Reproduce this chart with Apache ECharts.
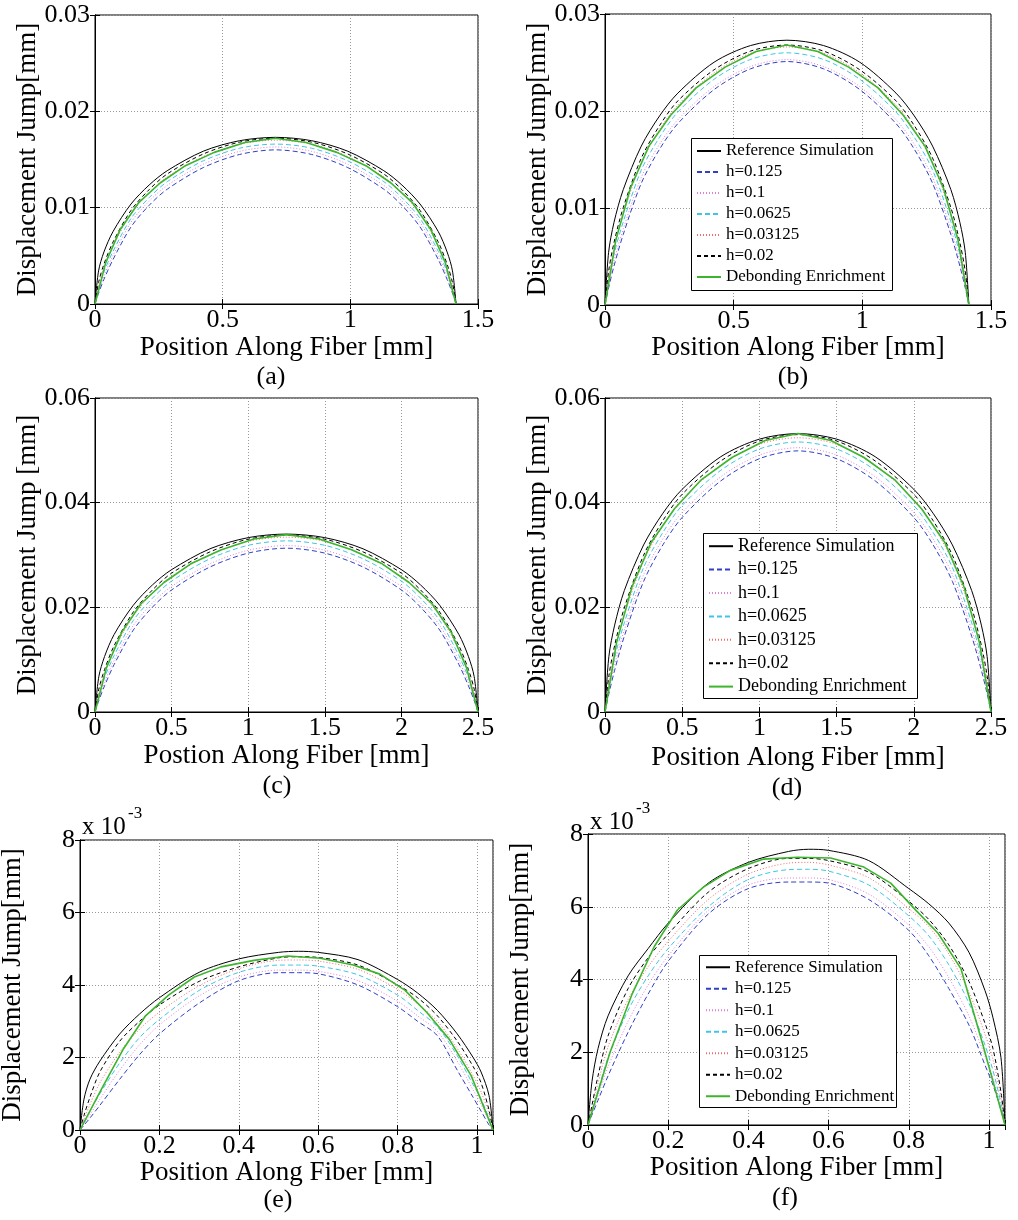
<!DOCTYPE html>
<html>
<head>
<meta charset="utf-8">
<script src="https://cdn.jsdelivr.net/npm/echarts@6/dist/echarts.min.js"></script>
<style>
html,body{margin:0;padding:0;background:#fff}
#chart{width:1018px;height:1220px}
</style>
</head>
<body>
<div id="chart"></div>
<script>
// ---- Series names (legend order) ----
const seriesNames = ['Reference Simulation', 'h=0.125', 'h=0.1', 'h=0.0625', 'h=0.03125', 'h=0.02', 'Debonding Enrichment'];

// ---- Panel (a): fiber length 1.414 mm ----
const xA = [0, 0.014, 0.035, 0.071, 0.141, 0.212, 0.283, 0.424, 0.566, 0.707, 0.849, 0.99, 1.131, 1.202, 1.273, 1.344, 1.379, 1.4, 1.414];
const refA    = [0, 0.00344, 0.0054, 0.00754, 0.01038, 0.01235, 0.01384, 0.01586, 0.01695, 0.0173, 0.01695, 0.01586, 0.01384, 0.01235, 0.01038, 0.00754, 0.0054, 0.00344, 0];
const h125A   = [0, 0.00112, 0.00256, 0.00464, 0.008, 0.01024, 0.01192, 0.01416, 0.01552, 0.016, 0.01552, 0.01416, 0.01192, 0.01024, 0.008, 0.00464, 0.00256, 0.00112, 0];
const h100A   = [0, 0.0013, 0.00293, 0.00505, 0.00848, 0.01068, 0.01231, 0.01451, 0.01584, 0.0163, 0.01584, 0.01451, 0.01231, 0.01068, 0.00848, 0.00505, 0.00293, 0.0013, 0];
const h0625A  = [0, 0.00149, 0.00332, 0.00548, 0.00888, 0.01104, 0.0127, 0.01486, 0.01617, 0.0166, 0.01617, 0.01486, 0.0127, 0.01104, 0.00888, 0.00548, 0.00332, 0.00149, 0];
const h03125A = [0, 0.00187, 0.00374, 0.00604, 0.00935, 0.01156, 0.01318, 0.0153, 0.01659, 0.017, 0.01659, 0.0153, 0.01318, 0.01156, 0.00935, 0.00604, 0.00374, 0.00187, 0];
const h02A    = [0, 0.00224, 0.00413, 0.00645, 0.00972, 0.01187, 0.0135, 0.01557, 0.0168, 0.0172, 0.0168, 0.01557, 0.0135, 0.01187, 0.00972, 0.00645, 0.00413, 0.00224, 0];
const xDebA   = [0, 0.042, 0.099, 0.17, 0.255, 0.354, 0.467, 0.587, 0.707, 0.827, 0.947, 1.061, 1.159, 1.244, 1.315, 1.372, 1.414];
const debA    = [0, 0.0043, 0.00774, 0.01049, 0.01256, 0.01436, 0.01574, 0.01677, 0.0172, 0.01677, 0.01574, 0.01436, 0.01256, 0.01049, 0.00774, 0.0043, 0];

// ---- Panel (b): fiber length 1.414 mm ----
const xB = [0, 0.014, 0.035, 0.071, 0.141, 0.212, 0.283, 0.424, 0.566, 0.707, 0.849, 0.99, 1.131, 1.202, 1.273, 1.344, 1.379, 1.4, 1.414];
const refB    = [0, 0.00543, 0.00852, 0.0119, 0.01638, 0.01949, 0.02184, 0.02503, 0.02675, 0.0273, 0.02675, 0.02503, 0.02184, 0.01949, 0.01638, 0.0119, 0.00852, 0.00543, 0];
const h125B   = [0, 0.00176, 0.00402, 0.00728, 0.01255, 0.01606, 0.0187, 0.02221, 0.02435, 0.0251, 0.02435, 0.02221, 0.0187, 0.01606, 0.01255, 0.00728, 0.00402, 0.00176, 0];
const h100B   = [0, 0.00202, 0.00455, 0.00784, 0.01316, 0.01657, 0.0191, 0.02252, 0.02459, 0.0253, 0.02459, 0.02252, 0.0191, 0.01657, 0.01316, 0.00784, 0.00455, 0.00202, 0];
const h0625B  = [0, 0.00234, 0.0052, 0.00858, 0.01391, 0.01729, 0.01989, 0.02327, 0.02532, 0.026, 0.02532, 0.02327, 0.01989, 0.01729, 0.01391, 0.00858, 0.0052, 0.00234, 0];
const h03125B = [0, 0.00293, 0.00585, 0.00944, 0.01463, 0.01809, 0.02062, 0.02394, 0.02596, 0.0266, 0.02596, 0.02394, 0.02062, 0.01809, 0.01463, 0.00944, 0.00585, 0.00293, 0];
const h02B    = [0, 0.00348, 0.00643, 0.01005, 0.01514, 0.01849, 0.02104, 0.02425, 0.02618, 0.0268, 0.02618, 0.02425, 0.02104, 0.01849, 0.01514, 0.01005, 0.00643, 0.00348, 0];
const xDebB   = [0, 0.042, 0.099, 0.17, 0.255, 0.354, 0.467, 0.587, 0.707, 0.827, 0.947, 1.061, 1.159, 1.244, 1.315, 1.372, 1.414];
const debB    = [0, 0.0067, 0.01206, 0.01635, 0.01956, 0.02238, 0.02452, 0.02613, 0.0268, 0.02613, 0.02452, 0.02238, 0.01956, 0.01635, 0.01206, 0.0067, 0];

// ---- Panel (c): fiber length 2.5 mm ----
const xC = [0, 0.025, 0.0625, 0.125, 0.25, 0.375, 0.5, 0.75, 1.0, 1.25, 1.5, 1.75, 2.0, 2.125, 2.25, 2.375, 2.4375, 2.475, 2.5];
const refC    = [0, 0.00677, 0.01061, 0.01482, 0.0204, 0.02428, 0.0272, 0.03118, 0.03332, 0.034, 0.03332, 0.03118, 0.0272, 0.02428, 0.0204, 0.01482, 0.01061, 0.00677, 0];
const h125C   = [0, 0.00219, 0.00501, 0.00908, 0.01565, 0.02003, 0.02332, 0.0277, 0.03036, 0.0313, 0.03036, 0.0277, 0.02332, 0.02003, 0.01565, 0.00908, 0.00501, 0.00219, 0];
const h100C   = [0, 0.00254, 0.00572, 0.00986, 0.01654, 0.02083, 0.02401, 0.0283, 0.03091, 0.0318, 0.03091, 0.0283, 0.02401, 0.02083, 0.01654, 0.00986, 0.00572, 0.00254, 0];
const h0625C  = [0, 0.00294, 0.00654, 0.01079, 0.01749, 0.02175, 0.02502, 0.02927, 0.03185, 0.0327, 0.03185, 0.02927, 0.02502, 0.02175, 0.01749, 0.01079, 0.00654, 0.00294, 0];
const h03125C = [0, 0.00367, 0.00735, 0.01186, 0.01837, 0.02271, 0.02589, 0.03006, 0.0326, 0.0334, 0.0326, 0.03006, 0.02589, 0.02271, 0.01837, 0.01186, 0.00735, 0.00367, 0];
const h02C    = [0, 0.00439, 0.00811, 0.01268, 0.0191, 0.02332, 0.02653, 0.03059, 0.03302, 0.0338, 0.03302, 0.03059, 0.02653, 0.02332, 0.0191, 0.01268, 0.00811, 0.00439, 0];
const xDebC   = [0, 0.075, 0.175, 0.3, 0.45, 0.625, 0.825, 1.0375, 1.25, 1.4625, 1.675, 1.875, 2.05, 2.2, 2.325, 2.425, 2.5];
const debC    = [0, 0.00848, 0.01526, 0.02068, 0.02475, 0.02831, 0.03102, 0.03305, 0.0339, 0.03305, 0.03102, 0.02831, 0.02475, 0.02068, 0.01526, 0.00848, 0];

// ---- Panel (d): fiber length 2.5 mm ----
const xD = [0, 0.025, 0.0625, 0.125, 0.25, 0.375, 0.5, 0.75, 1.0, 1.25, 1.5, 1.75, 2.0, 2.125, 2.25, 2.375, 2.4375, 2.475, 2.5];
const refD    = [0, 0.01059, 0.0166, 0.0232, 0.03192, 0.03798, 0.04256, 0.04878, 0.05214, 0.0532, 0.05214, 0.04878, 0.04256, 0.03798, 0.03192, 0.0232, 0.0166, 0.01059, 0];
const h125D   = [0, 0.00349, 0.00798, 0.01447, 0.02495, 0.03194, 0.03718, 0.04416, 0.0484, 0.0499, 0.0484, 0.04416, 0.03718, 0.03194, 0.02495, 0.01447, 0.00798, 0.00349, 0];
const h100D   = [0, 0.00404, 0.00909, 0.01566, 0.02626, 0.03308, 0.03813, 0.04495, 0.04909, 0.0505, 0.04909, 0.04495, 0.03813, 0.03308, 0.02626, 0.01566, 0.00909, 0.00404, 0];
const h0625D  = [0, 0.00464, 0.01032, 0.01703, 0.02761, 0.03431, 0.03947, 0.04618, 0.05026, 0.0516, 0.05026, 0.04618, 0.03947, 0.03431, 0.02761, 0.01703, 0.01032, 0.00464, 0];
const h03125D = [0, 0.00576, 0.01153, 0.0186, 0.02882, 0.03563, 0.04061, 0.04716, 0.05114, 0.0524, 0.05114, 0.04716, 0.04061, 0.03563, 0.02882, 0.0186, 0.01153, 0.00576, 0];
const h02D    = [0, 0.00689, 0.01272, 0.01988, 0.02995, 0.03657, 0.04161, 0.04797, 0.05178, 0.053, 0.05178, 0.04797, 0.04161, 0.03657, 0.02995, 0.01988, 0.01272, 0.00689, 0];
const xDebD   = [0, 0.075, 0.175, 0.3, 0.45, 0.625, 0.825, 1.0375, 1.25, 1.4625, 1.675, 1.875, 2.05, 2.2, 2.325, 2.425, 2.5];
const debD    = [0, 0.0133, 0.02394, 0.03245, 0.03884, 0.04442, 0.04868, 0.05187, 0.0532, 0.05187, 0.04868, 0.04442, 0.03884, 0.03245, 0.02394, 0.0133, 0];

// ---- Panel (e): fiber length 1.04 mm, values in units of 1e-3 mm ----
const xE = [0, 0.01, 0.025, 0.05, 0.1, 0.15, 0.2, 0.3, 0.4, 0.5, 0.55, 0.6, 0.7, 0.8, 0.85, 0.9, 0.95, 0.99, 1.01, 1.03, 1.04];
const refE    = [0, 0.85, 1.4, 1.9, 2.65, 3.2, 3.65, 4.35, 4.72, 4.9, 4.93, 4.9, 4.7, 4.15, 3.78, 3.3, 2.65, 2.0, 1.6, 0.95, 0];
const h125E   = [0, 0.13, 0.33, 0.68, 1.4, 2.08, 2.65, 3.5, 4.12, 4.34, 4.34, 4.31, 4.0, 3.4, 3.0, 2.6, 1.65, 0.9, 0.52, 0.14, 0];
const h100E   = [0, 0.17, 0.42, 0.85, 1.65, 2.35, 2.9, 3.7, 4.22, 4.41, 4.41, 4.38, 4.12, 3.55, 3.15, 2.72, 1.9, 1.1, 0.7, 0.25, 0];
const h0625E  = [0, 0.22, 0.52, 1.0, 1.85, 2.55, 3.05, 3.85, 4.35, 4.55, 4.55, 4.52, 4.28, 3.72, 3.3, 2.85, 2.05, 1.25, 0.85, 0.32, 0];
const h03125E = [0, 0.3, 0.7, 1.3, 2.15, 2.78, 3.25, 3.98, 4.45, 4.68, 4.69, 4.66, 4.43, 3.88, 3.48, 3.0, 2.25, 1.5, 1.05, 0.45, 0];
const h02E    = [0, 0.4, 0.9, 1.6, 2.45, 3.0, 3.45, 4.1, 4.5, 4.75, 4.78, 4.76, 4.55, 4.0, 3.65, 3.15, 2.45, 1.75, 1.3, 0.55, 0];
const xDebE   = [0, 0.055, 0.11, 0.165, 0.223, 0.288, 0.355, 0.438, 0.523, 0.605, 0.688, 0.755, 0.818, 0.873, 0.93, 0.985, 1.04];
const debE    = [0, 1.15, 2.25, 3.15, 3.72, 4.22, 4.5, 4.68, 4.8, 4.74, 4.55, 4.3, 3.86, 3.25, 2.5, 1.5, 0];

// ---- Panel (f): fiber length 1.04 mm, values in units of 1e-3 mm ----
const xF = [0, 0.01, 0.025, 0.05, 0.1, 0.15, 0.2, 0.3, 0.4, 0.5, 0.55, 0.6, 0.7, 0.8, 0.85, 0.9, 0.95, 0.99, 1.01, 1.03, 1.04];
const refF    = [0, 1.2, 2.1, 3.0, 4.1, 4.85, 5.55, 6.65, 7.22, 7.52, 7.58, 7.55, 7.27, 6.5, 6.08, 5.55, 4.75, 3.7, 2.95, 1.85, 0];
const h125F   = [0, 0.28, 0.68, 1.35, 2.55, 3.6, 4.5, 5.8, 6.5, 6.68, 6.68, 6.65, 6.2, 5.35, 4.65, 3.75, 2.75, 1.65, 1.1, 0.42, 0];
const h100F   = [0, 0.32, 0.8, 1.6, 2.85, 3.85, 4.65, 5.9, 6.6, 6.79, 6.79, 6.75, 6.35, 5.5, 4.9, 4.05, 3.0, 1.9, 1.3, 0.5, 0];
const h0625F  = [0, 0.38, 0.95, 1.85, 3.15, 4.1, 4.85, 6.0, 6.75, 7.02, 7.03, 6.98, 6.6, 5.75, 5.2, 4.4, 3.35, 2.2, 1.5, 0.6, 0];
const h03125F = [0, 0.45, 1.15, 2.15, 3.45, 4.35, 5.05, 6.2, 6.9, 7.2, 7.22, 7.15, 6.8, 5.95, 5.45, 4.7, 3.65, 2.5, 1.8, 0.75, 0];
const h02F    = [0, 0.55, 1.35, 2.45, 3.75, 4.6, 5.25, 6.4, 7.05, 7.33, 7.33, 7.27, 6.95, 6.15, 5.65, 4.95, 3.95, 2.8, 2.1, 0.9, 0];
const xDebF   = [0, 0.055, 0.11, 0.165, 0.223, 0.288, 0.355, 0.438, 0.523, 0.605, 0.688, 0.755, 0.818, 0.873, 0.93, 0.985, 1.04];
const debF    = [0, 2.0, 3.6, 4.9, 5.91, 6.54, 7.0, 7.31, 7.36, 7.34, 7.09, 6.65, 5.9, 5.27, 4.3, 2.2, 0];

// ---- Line styles per series ----
const lineStyles = {
  'Reference Simulation': { color: '#000000', width: 1,   type: 'solid' },
  'h=0.125':              { color: '#2f40c8', width: 1,   type: [5, 3] },
  'h=0.1':                { color: '#e07fd6', width: 1,   type: [1, 2] },
  'h=0.0625':             { color: '#40c6e4', width: 1,   type: [5, 3] },
  'h=0.03125':            { color: '#f06c6c', width: 1,   type: [1, 2] },
  'h=0.02':               { color: '#000000', width: 1,   type: [4, 3] },
  'Debonding Enrichment': { color: '#3cb52c', width: 1.6, type: 'solid' }
};

const FONT = 'Liberation Serif';

// ---- Panel layout ----
const panels = [
  { rect: [95, 15, 383, 289],  xMax: 1.5,  xStep: 0.5, yMax: 0.03, yStep: 0.01,
    x: xA, ys: [refA, h125A, h100A, h0625A, h03125A, h02A], xDeb: xDebA, deb: debA,
    xTitle: 'Position Along Fiber [mm]', yTitle: 'Displacement Jump[mm]', cap: '(a)',
    xTitleY: 348, capX: 271, capY: 377 },
  { rect: [605, 14, 386, 291], xMax: 1.5,  xStep: 0.5, yMax: 0.03, yStep: 0.01,
    x: xB, ys: [refB, h125B, h100B, h0625B, h03125B, h02B], xDeb: xDebB, deb: debB,
    xTitle: 'Position Along Fiber [mm]', yTitle: 'Displacement Jump[mm]', cap: '(b)',
    xTitleY: 348, capX: 793, capY: 377,
    legend: { box: [691, 138, 201, 152], left: 696, top: 140.5, font: 17, row: 21 } },
  { rect: [95, 398, 383, 314], xMax: 2.5,  xStep: 0.5, yMax: 0.06, yStep: 0.02,
    x: xC, ys: [refC, h125C, h100C, h0625C, h03125C, h02C], xDeb: xDebC, deb: debC,
    xTitle: 'Postion Along Fiber [mm]', yTitle: 'Displacement Jump [mm]', cap: '(c)',
    xTitleY: 756, capX: 277, capY: 786 },
  { rect: [605, 398, 386, 314], xMax: 2.5, xStep: 0.5, yMax: 0.06, yStep: 0.02,
    x: xD, ys: [refD, h125D, h100D, h0625D, h03125D, h02D], xDeb: xDebD, deb: debD,
    xTitle: 'Position Along Fiber [mm]', yTitle: 'Displacement Jump [mm]', cap: '(d)',
    xTitleY: 758, capX: 787, capY: 788,
    legend: { box: [703, 533, 214, 165], left: 708, top: 534.5, font: 18, row: 23.4 } },
  { rect: [80, 840, 413, 290], xMax: 1.04, xStep: 0.2, yMax: 8, yStep: 2,
    x: xE, ys: [refE, h125E, h100E, h0625E, h03125E, h02E], xDeb: xDebE, deb: debE,
    xTitle: 'Position Along Fiber [mm]', yTitle: 'Displacement Jump[mm]', cap: '(e)',
    xTitleY: 1173, capX: 278, capY: 1200, exp: [82, 827] },
  { rect: [588, 834, 417, 291], xMax: 1.04, xStep: 0.2, yMax: 8, yStep: 2,
    x: xF, ys: [refF, h125F, h100F, h0625F, h03125F, h02F], xDeb: xDebF, deb: debF,
    xTitle: 'Position Along Fiber [mm]', yTitle: 'Displacement Jump[mm]', cap: '(f)',
    xTitleY: 1168, capX: 785, capY: 1198, exp: [590, 822],
    legend: { box: [699, 955, 197, 152], left: 705, top: 956.5, font: 17, row: 21.5 } }
];

const zip = (xs, ys) => xs.map((x, i) => [x, ys[i]]);

// Keep only labels on whole multiples of the step (hides the extent label at 1.04)
const stepLabel = (step) => (v) => {
  const k = v / step;
  if (Math.abs(k - Math.round(k)) > 1e-6) return '';
  return String(+v.toFixed(4));
};

const grids = [], xAxes = [], yAxes = [], series = [], legends = [], graphics = [];
const tickStyle = { show: true, inside: true, length: 5, lineStyle: { color: '#000', width: 1 } };
const axisLineStyle = { show: true, lineStyle: { color: '#000', width: 1 } };
const gridLineStyle = { show: true, lineStyle: { color: '#9a9a9a', width: 1, type: [1, 2] } };

panels.forEach((p, i) => {
  const [l, t, w, h] = p.rect;
  grids.push({ left: l, top: t, width: w, height: h, show: true,
               borderColor: '#000', borderWidth: 1, backgroundColor: 'transparent' });

  const xCommon = { type: 'value', gridIndex: i, min: 0, max: p.xMax, interval: p.xStep };
  const yCommon = { type: 'value', gridIndex: i, min: 0, max: p.yMax, interval: p.yStep };

  xAxes.push(Object.assign({}, xCommon, {
    position: 'bottom', axisLine: axisLineStyle, axisTick: tickStyle, splitLine: gridLineStyle,
    axisLabel: { color: '#000', fontFamily: FONT, fontSize: 26, margin: 3, formatter: stepLabel(p.xStep) }
  }));
  xAxes.push(Object.assign({}, xCommon, {
    position: 'top', axisLine: axisLineStyle, axisTick: tickStyle,
    splitLine: { show: false }, axisLabel: { show: false }
  }));
  yAxes.push(Object.assign({}, yCommon, {
    position: 'left', axisLine: axisLineStyle, axisTick: tickStyle, splitLine: gridLineStyle,
    axisLabel: { color: '#000', fontFamily: FONT, fontSize: 26, margin: 5, formatter: stepLabel(p.yStep) }
  }));
  yAxes.push(Object.assign({}, yCommon, {
    position: 'right', axisLine: axisLineStyle, axisTick: tickStyle,
    splitLine: { show: false }, axisLabel: { show: false }
  }));

  const seriesData = p.ys.map(ys => zip(p.x, ys)).concat([zip(p.xDeb, p.deb)]);
  seriesNames.forEach((name, k) => {
    const isEnrichment = name === 'Debonding Enrichment';
    series.push({
      name, type: 'line', xAxisIndex: 2 * i, yAxisIndex: 2 * i,
      data: seriesData[k], symbol: 'none', showSymbol: false,
      // simulation curves drawn as smooth curves, enrichment result as element-wise polyline
      smooth: isEnrichment ? false : 0.3,
      lineStyle: lineStyles[name], itemStyle: { color: lineStyles[name].color },
      emphasis: { disabled: true }, silent: true, z: 2 + k * 0.01
    });
  });

  // Axis titles and panel caption
  graphics.push({ type: 'text', x: l + w / 2, y: p.xTitleY, z: 10,
    style: { text: p.xTitle, fontFamily: FONT, fontSize: 27, fill: '#000', align: 'center', verticalAlign: 'middle' } });
  graphics.push({ type: 'text', x: l - 67, y: t + h / 2, rotation: Math.PI / 2, z: 10,
    style: { text: p.yTitle, fontFamily: FONT, fontSize: 27, fill: '#000', align: 'center', verticalAlign: 'middle' } });
  graphics.push({ type: 'text', x: p.capX, y: p.capY, z: 10,
    style: { text: p.cap, fontFamily: FONT, fontSize: 26, fill: '#000', align: 'center', verticalAlign: 'middle' } });

  // Exponent marker for the 1e-3 scaled panels
  if (p.exp) {
    graphics.push({ type: 'text', x: p.exp[0], y: p.exp[1], z: 10,
      style: { text: 'x 10', fontFamily: FONT, fontSize: 25, fill: '#000', align: 'left', verticalAlign: 'middle' } });
    graphics.push({ type: 'text', x: p.exp[0] + 46, y: p.exp[1] - 13, z: 10,
      style: { text: '-3', fontFamily: FONT, fontSize: 17, fill: '#000', align: 'left', verticalAlign: 'middle' } });
  }

  if (p.legend) {
    const L = p.legend;
    graphics.push({ type: 'rect', z: 3,
      shape: { x: L.box[0] + 0.5, y: L.box[1] + 0.5, width: L.box[2], height: L.box[3] },
      style: { fill: '#fff', stroke: '#000', lineWidth: 1 } });
    legends.push({
      data: seriesNames, orient: 'vertical', left: L.left, top: L.top, padding: 0,
      itemGap: 0, itemWidth: 24, itemHeight: 10, selectedMode: false, z: 5,
      itemStyle: { opacity: 0 },
      textStyle: { fontFamily: FONT, fontSize: L.font, color: '#000', lineHeight: L.row }
    });
  }
});

const chart = echarts.init(document.getElementById('chart'), null, { renderer: 'canvas' });
chart.setOption({
  animation: false,
  backgroundColor: '#fff',
  grid: grids,
  xAxis: xAxes,
  yAxis: yAxes,
  legend: legends,
  series: series,
  graphic: graphics
});
</script>
</body>
</html>
